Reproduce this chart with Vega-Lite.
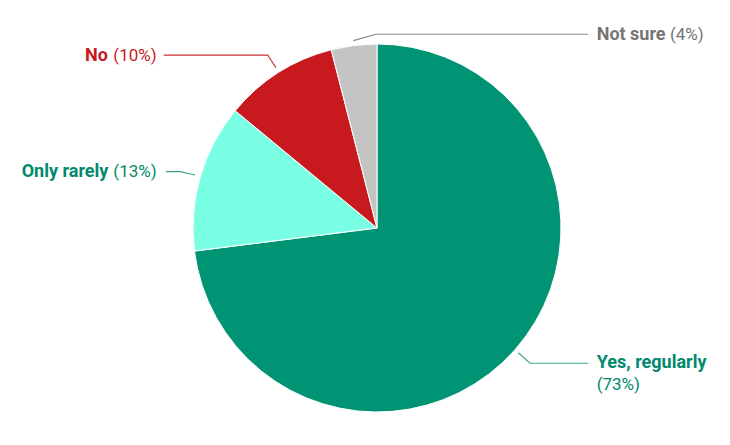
{
  "$schema": "https://vega.github.io/schema/vega-lite/v6.json",
  "width": 730,
  "height": 445,
  "autosize": "none",
  "padding": 0,
  "background": "white",
  "config": {"view": {"stroke": null}, "font": "Roboto"},
  "datasets": {
    "slices": [
      {"answer": "Yes, regularly", "pct": 73, "order": 1},
      {"answer": "Only rarely", "pct": 13, "order": 2},
      {"answer": "No", "pct": 10, "order": 3},
      {"answer": "Not sure", "pct": 4, "order": 4}
    ],
    "labels": [
      {"answer": "No", "text": "No", "bold": true, "x": -158.7, "y": 93.5},
      {"answer": "No", "text": "(10%)", "bold": false, "x": -143.3, "y": 93.5},
      {"answer": "Only rarely", "text": "Only rarely", "bold": true, "x": -193.1, "y": 30.7},
      {"answer": "Only rarely", "text": "(13%)", "bold": false, "x": -143.3, "y": 30.7},
      {"answer": "Not sure", "text": "Not sure", "bold": true, "x": 119.4, "y": 104.9},
      {"answer": "Not sure", "text": "(4%)", "bold": false, "x": 159.2, "y": 104.9},
      {"answer": "Yes, regularly", "text": "Yes, regularly", "bold": true, "x": 119.4, "y": -73.2},
      {"answer": "Yes, regularly", "text": "(73%)", "bold": false, "x": 119.4, "y": -85.3}
    ],
    "leaders": [
      {"answer": "No", "pt": 1, "x": -115.9, "y": 94.0},
      {"answer": "No", "pt": 2, "x": -59.4, "y": 94.0},
      {"answer": "No", "pt": 3, "x": -54.9, "y": 87.1},
      {"answer": "Not sure", "pt": 1, "x": -12.9, "y": 101.8},
      {"answer": "Not sure", "pt": 2, "x": -0.5, "y": 105.3},
      {"answer": "Not sure", "pt": 3, "x": 114.8, "y": 105.3},
      {"answer": "Only rarely", "pt": 1, "x": -114.8, "y": 30.6},
      {"answer": "Only rarely", "pt": 2, "x": -107.1, "y": 30.6},
      {"answer": "Only rarely", "pt": 3, "x": -98.9, "y": 28.8},
      {"answer": "Yes, regularly", "pt": 1, "x": 76.8, "y": -67.8},
      {"answer": "Yes, regularly", "pt": 2, "x": 83.2, "y": -73.5},
      {"answer": "Yes, regularly", "pt": 3, "x": 114.8, "y": -73.5}
    ]
  },
  "resolve": {"scale": {"color": "independent"}},
  "layer": [
    {
      "data": {"name": "slices"},
      "mark": {"type": "arc", "outerRadius": 184, "stroke": "white", "strokeWidth": 1},
      "encoding": {
        "x": {"datum": 0, "type": "quantitative", "scale": {"domain": [-204.89, 191.85], "nice": false, "zero": false}, "axis": null},
        "y": {"datum": 0, "type": "quantitative", "scale": {"domain": [-117.93, 123.91], "nice": false, "zero": false}, "axis": null},
        "theta": {"field": "pct", "type": "quantitative", "stack": true},
        "order": {"field": "order", "type": "quantitative"},
        "color": {
          "field": "answer", "type": "nominal", "legend": null,
          "scale": {"domain": ["Yes, regularly", "Only rarely", "No", "Not sure"], "range": ["#009475", "#7affe4", "#c8191e", "#c4c4c4"]}
        }
      }
    },
    {
      "data": {"name": "leaders"},
      "mark": {"type": "line", "strokeWidth": 1.2},
      "encoding": {
        "x": {"field": "x", "type": "quantitative", "scale": {"domain": [-204.89, 191.85], "nice": false, "zero": false}, "axis": null},
        "y": {"field": "y", "type": "quantitative", "scale": {"domain": [-117.93, 123.91], "nice": false, "zero": false}, "axis": null},
        "detail": {"field": "answer"},
        "order": {"field": "pt", "type": "quantitative"},
        "color": {
          "field": "answer", "type": "nominal", "legend": null,
          "scale": {"domain": ["Yes, regularly", "Only rarely", "No", "Not sure"], "range": ["#3aa88f", "#3aa88f", "#cc3333", "#888888"]}
        }
      }
    },
    {
      "data": {"name": "labels"},
      "transform": [{"filter": "datum.bold"}],
      "mark": {"type": "text", "align": "left", "baseline": "middle", "fontSize": 18, "fontWeight": "bold"},
      "encoding": {
        "x": {"field": "x", "type": "quantitative", "scale": {"domain": [-204.89, 191.85], "nice": false, "zero": false}, "axis": null},
        "y": {"field": "y", "type": "quantitative", "scale": {"domain": [-117.93, 123.91], "nice": false, "zero": false}, "axis": null},
        "text": {"field": "text"},
        "color": {
          "field": "answer", "type": "nominal", "legend": null,
          "scale": {"domain": ["Yes, regularly", "Only rarely", "No", "Not sure"], "range": ["#00896c", "#00896c", "#c8191e", "#757575"]}
        }
      }
    },
    {
      "data": {"name": "labels"},
      "transform": [{"filter": "!datum.bold"}],
      "mark": {"type": "text", "align": "left", "baseline": "middle", "fontSize": 17, "fontWeight": "normal"},
      "encoding": {
        "x": {"field": "x", "type": "quantitative", "scale": {"domain": [-204.89, 191.85], "nice": false, "zero": false}, "axis": null},
        "y": {"field": "y", "type": "quantitative", "scale": {"domain": [-117.93, 123.91], "nice": false, "zero": false}, "axis": null},
        "text": {"field": "text"},
        "color": {
          "field": "answer", "type": "nominal", "legend": null,
          "scale": {"domain": ["Yes, regularly", "Only rarely", "No", "Not sure"], "range": ["#00896c", "#00896c", "#c8191e", "#757575"]}
        }
      }
    }
  ]
}
